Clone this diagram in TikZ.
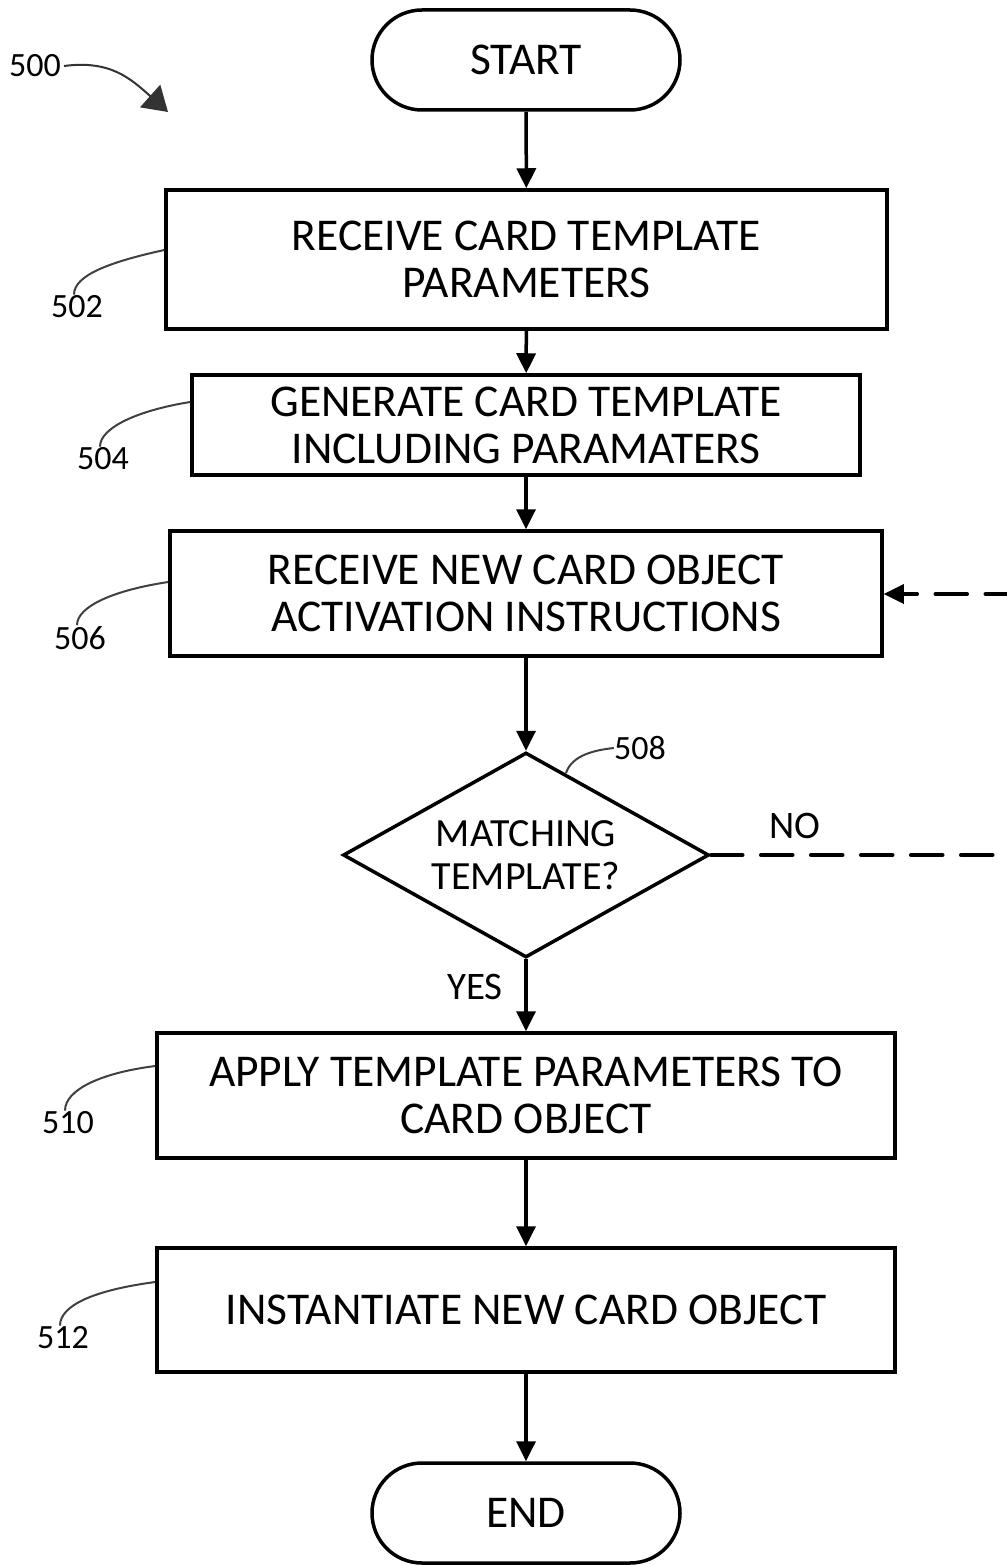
\documentclass[tikz,border=0pt]{standalone}
\usepackage{fontspec}
\setmainfont{Carlito}
\usetikzlibrary{arrows.meta,shapes.misc,shapes.geometric}
\begin{document}
\begin{tikzpicture}[x=1pt,y=-1pt,
  every node/.style={font=\fontsize{45.5}{47}\selectfont, align=center, inner sep=0pt},
  stepbox/.style={draw, line width=3.5pt, rectangle},
  terminal/.style={draw, line width=3.5pt, rounded rectangle, minimum width=308pt, minimum height=100pt},
  decision/.style={draw, line width=3.5pt, diamond, aspect=1.8, minimum width=366pt, minimum height=205pt, font=\fontsize{40}{43}\selectfont},
  flow/.style={line width=3.5pt, -{Triangle[length=20pt,width=19pt]}},
  loop/.style={line width=3.5pt, dash pattern=on 32pt off 18pt, line cap=round},
  refnum/.style={font=\fontsize{34}{36}\selectfont},
  leader/.style={line width=2pt, black!75},
  small/.style={font=\fontsize{39}{40}\selectfont}]
\useasboundingbox (0,0) rectangle (1006,1565);

% terminals
\node[terminal] (start) at (526,60) {START};
\node[terminal] (end) at (526,1513) {END};

% process steps
\node[stepbox, minimum width=721pt, minimum height=139pt] (s502) at (526.5,259.5) {RECEIVE CARD TEMPLATE\\PARAMETERS};
\node[stepbox, minimum width=668pt, minimum height=100pt] (s504) at (526,425) {GENERATE CARD TEMPLATE\\INCLUDING PARAMATERS};
\node[stepbox, minimum width=712pt, minimum height=125pt] (s506) at (526,593.5) {RECEIVE NEW CARD OBJECT\\ACTIVATION INSTRUCTIONS};
\node[decision] (d508) at (526,855) {MATCHING\\TEMPLATE?};
\node[stepbox, minimum width=738pt, minimum height=125pt] (s510) at (526,1095.5) {APPLY TEMPLATE PARAMETERS TO\\CARD OBJECT};
\node[stepbox, minimum width=738pt, minimum height=124pt] (s512) at (526,1310) {INSTANTIATE NEW CARD OBJECT};

% main flow
\draw[flow] (start) -- (s502);
\draw[flow] (s502) -- (s504);
\draw[flow] (s504) -- (s506);
\draw[flow] (s506) -- (d508);
\draw[flow] (d508) -- (s510);
\draw[flow] (s510) -- (s512);
\draw[flow] (s512) -- (end);

% return path when no template matches (its vertical run sits on the right edge)
\coordinate (loopA) at (1008.5,855);
\coordinate (loopB) at (1008.5,594);
\draw[loop] (d508.east) -- (loopA) -- (loopB) -- ([xshift=28pt]s506.east |- loopB);
\draw[line width=3.5pt, -{Triangle[length=20pt,width=19pt]}] ([xshift=28pt]s506.east |- loopB) -- (s506.east |- loopB);

% branch labels
\node[small] (yes) at (475,987) {YES};
\node[small] (no) at (795,826) {NO};

% reference numerals
\node[refnum] (n500) at (35,66) {500};
\node[refnum] (n502) at (77,307) {502};
\node[refnum] (n504) at (103,459) {504};
\node[refnum] (n506) at (80,638) {506};
\node[refnum] (n508) at (640,748) {508};
\node[refnum] (n510) at (68,1123) {510};
\node[refnum] (n512) at (63,1338) {512};

\coordinate (h500) at (168,112);
\draw[leader, -{Triangle[length=24pt,width=30pt]}, black!80] ([xshift=3pt]n500.east) .. controls (110,60) and (130,78) .. (h500);
\draw[leader] ([xshift=-3pt,yshift=1pt]n502.north) .. controls (74,275) and (110,262) .. (s502.west |- 0,250);
\draw[leader] ([xshift=-3pt,yshift=1pt]n504.north) .. controls (100,427) and (140,410) .. (s504.west |- 0,402);
\draw[leader] ([xshift=-3pt,yshift=1pt]n506.north) .. controls (77,606) and (115,590) .. (s506.west |- 0,582);
\draw[leader] (566,773) .. controls (572,755) and (595,750) .. (n508.west);
\draw[leader] ([xshift=-3pt,yshift=1pt]n510.north) .. controls (65,1090) and (100,1073) .. (s510.west |- 0,1066);
\draw[leader] ([xshift=-3pt,yshift=1pt]n512.north) .. controls (60,1305) and (95,1290) .. (s512.west |- 0,1282);
\end{tikzpicture}
\end{document}
